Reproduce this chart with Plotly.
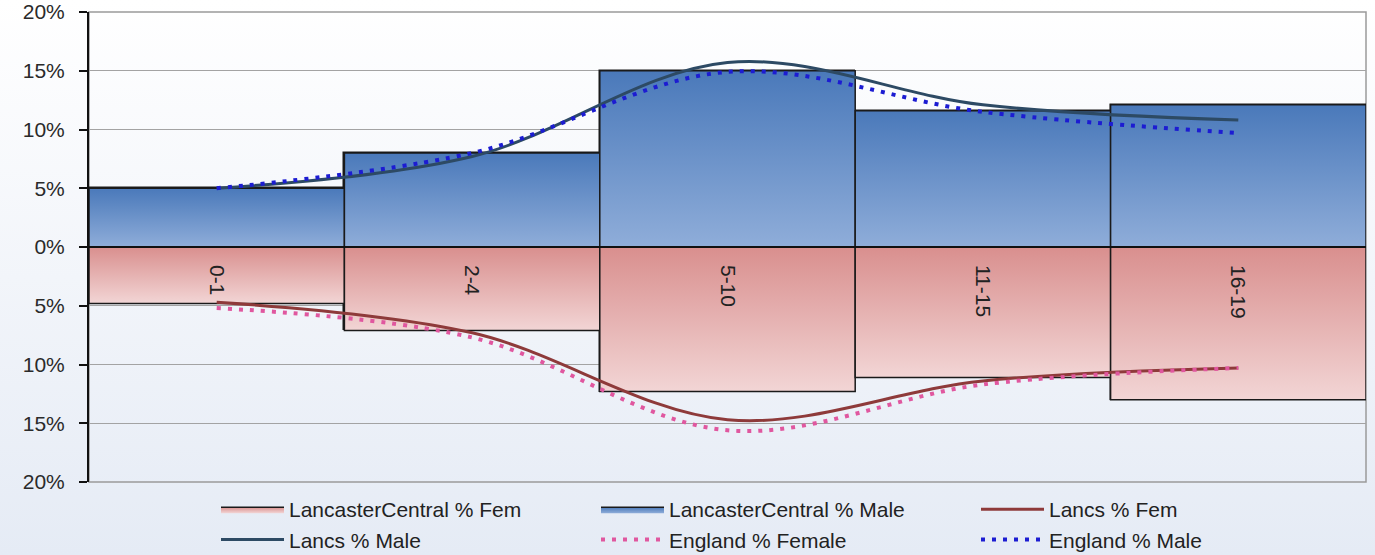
import base64
import plotly.graph_objects as go

# ---------------- data ----------------
categories = ["0-1", "2-4", "5-10", "11-15", "16-19"]
lc_female = [4.8, 7.1, 12.3, 11.1, 13.0]      # LancasterCentral % Fem
lc_male = [5.0, 8.0, 15.0, 11.6, 12.1]        # LancasterCentral % Male
lancs_female = [4.7, 7.3, 14.7, 11.4, 10.3]   # Lancs % Fem
lancs_male = [5.0, 7.7, 15.7, 12.1, 10.8]     # Lancs % Male
eng_female = [5.2, 7.7, 15.6, 11.7, 10.3]     # England % Female
eng_male = [5.0, 8.0, 14.9, 11.5, 9.7]        # England % Male
y_ticks = [-20, -15, -10, -5, 0, 5, 10, 15, 20]
y_tick_labels = ["20%", "15%", "10%", "5%", "0%", "5%", "10%", "15%", "20%"]

# ---------------- style ----------------
W, H = 1375, 555
ML, MR, MT, MB = 89, 9, 12, 73
PW, PH = W - ML - MR, H - MT - MB
FONT = "Liberation Sans, Arial, sans-serif"

male_dark, male_light, male_mid = "#4a79ba", "#8fadd9", "#6c93c9"
fem_dark, fem_light, fem_mid = "#d98f8e", "#f2d5d5", "#e6b2b1"

x_idx = list(range(len(categories)))

fig = go.Figure()

# bars
fig.add_trace(go.Bar(
    x=x_idx, y=[-v for v in lc_female], width=1, name="LancasterCentral % Fem",
    marker=dict(color=fem_mid, line=dict(color="#1a1a1a", width=1.5)),
    showlegend=False,
))
fig.add_trace(go.Bar(
    x=x_idx, y=lc_male, width=1, name="LancasterCentral % Male",
    marker=dict(color=male_mid, line=dict(color="#1a1a1a", width=1.5)),
    showlegend=False,
))

# per-bar vertical gradient fill on top of each bar
def add_gradient_bar(i, v, light, dark, name, group):
    fig.add_trace(go.Scatter(
        x=[i - 0.5, i - 0.5, i + 0.5, i + 0.5, i - 0.5],
        y=[0, v, v, 0, 0],
        mode="lines", fill="toself",
        fillgradient=dict(type="vertical", colorscale=[[0, light], [1, dark]]),
        line=dict(color="#1a1a1a", width=1.5),
        name=name, legendgroup=group, showlegend=(i == 0), hoverinfo="skip",
    ))

for i, v in enumerate(lc_female):
    add_gradient_bar(i, -v, fem_light, fem_dark, "LancasterCentral % Fem", "lcf")
for i, v in enumerate(lc_male):
    add_gradient_bar(i, v, male_light, male_dark, "LancasterCentral % Male", "lcm")

# lines
fig.add_trace(go.Scatter(
    x=x_idx, y=[-v for v in lancs_female], name="Lancs % Fem", mode="lines",
    line=dict(color="#8e3a3a", width=3, shape="spline", smoothing=1.0),
))
fig.add_trace(go.Scatter(
    x=x_idx, y=lancs_male, name="Lancs % Male", mode="lines",
    line=dict(color="#2d4a64", width=3, shape="spline", smoothing=1.0),
))
fig.add_trace(go.Scatter(
    x=x_idx, y=[-v for v in eng_female], name="England % Female", mode="lines",
    line=dict(color="#e0579f", width=4, dash="4px,7px", shape="spline", smoothing=1.0),
))
fig.add_trace(go.Scatter(
    x=x_idx, y=eng_male, name="England % Male", mode="lines",
    line=dict(color="#1c1cd2", width=4, dash="4px,7px", shape="spline", smoothing=1.0),
))

# background gradient
svg = ('<svg xmlns="http://www.w3.org/2000/svg" width="10" height="100" preserveAspectRatio="none">'
       '<defs><linearGradient id="g" x1="0" y1="0" x2="0" y2="1">'
       '<stop offset="0" stop-color="#ffffff"/><stop offset="1" stop-color="#e5ebf5"/>'
       '</linearGradient></defs><rect width="10" height="100" fill="url(#g)"/></svg>')
uri = "data:image/svg+xml;base64," + base64.b64encode(svg.encode()).decode()

fig.update_layout(
    width=W, height=H,
    margin=dict(l=ML, r=MR, t=MT, b=MB, pad=0, autoexpand=False),
    paper_bgcolor="white", plot_bgcolor="rgba(0,0,0,0)",
    barmode="overlay", bargap=0,
    font=dict(family=FONT, size=21, color="#222222"),
    images=[dict(source=uri, xref="paper", yref="paper",
                 x=-ML / PW, y=1 + MT / PH, sizex=W / PW, sizey=H / PH,
                 xanchor="left", yanchor="top", sizing="stretch", layer="below")],
    shapes=[dict(type="rect", xref="paper", yref="paper", x0=0, y0=0, x1=1, y1=1,
                 line=dict(color="#9a9a9a", width=1.5), layer="below")],
    legend=dict(
        orientation="h", x=(216 - ML) / PW, xanchor="left",
        y=-0.015, yanchor="top",
        entrywidth=302, entrywidthmode="pixels", itemwidth=63,
        font=dict(family=FONT, size=21, color="#222222"),
        bgcolor="rgba(0,0,0,0)", traceorder="normal",
    ),
    showlegend=True,
)

fig.update_yaxes(
    range=[-20, 20], tickvals=y_ticks, ticktext=y_tick_labels,
    showgrid=True, gridcolor="#a3a3a3", gridwidth=1.2, zeroline=False,
    showline=True, linecolor="#111111", linewidth=2,
    ticks="outside", ticklen=8, tickcolor="#111111", tickwidth=1.5,
    ticklabelstandoff=10,
    tickfont=dict(family=FONT, size=21, color="#2a2a2a"),
)
fig.update_xaxes(
    range=[-0.5, len(categories) - 0.5], tickvals=x_idx, ticktext=categories,
    anchor="free", position=0.5, showgrid=False, zeroline=False,
    showline=True, linecolor="#111111", linewidth=1.5,
    ticks="", tickangle=90, ticklabelstandoff=13,
    tickfont=dict(family=FONT, size=21, color="#222222"),
)

# remove the default 8px page margin so the figure fills the window exactly
fig.write_html("out.html", config={"displayModeBar": False},
               post_script="document.body.style.margin='0';")
